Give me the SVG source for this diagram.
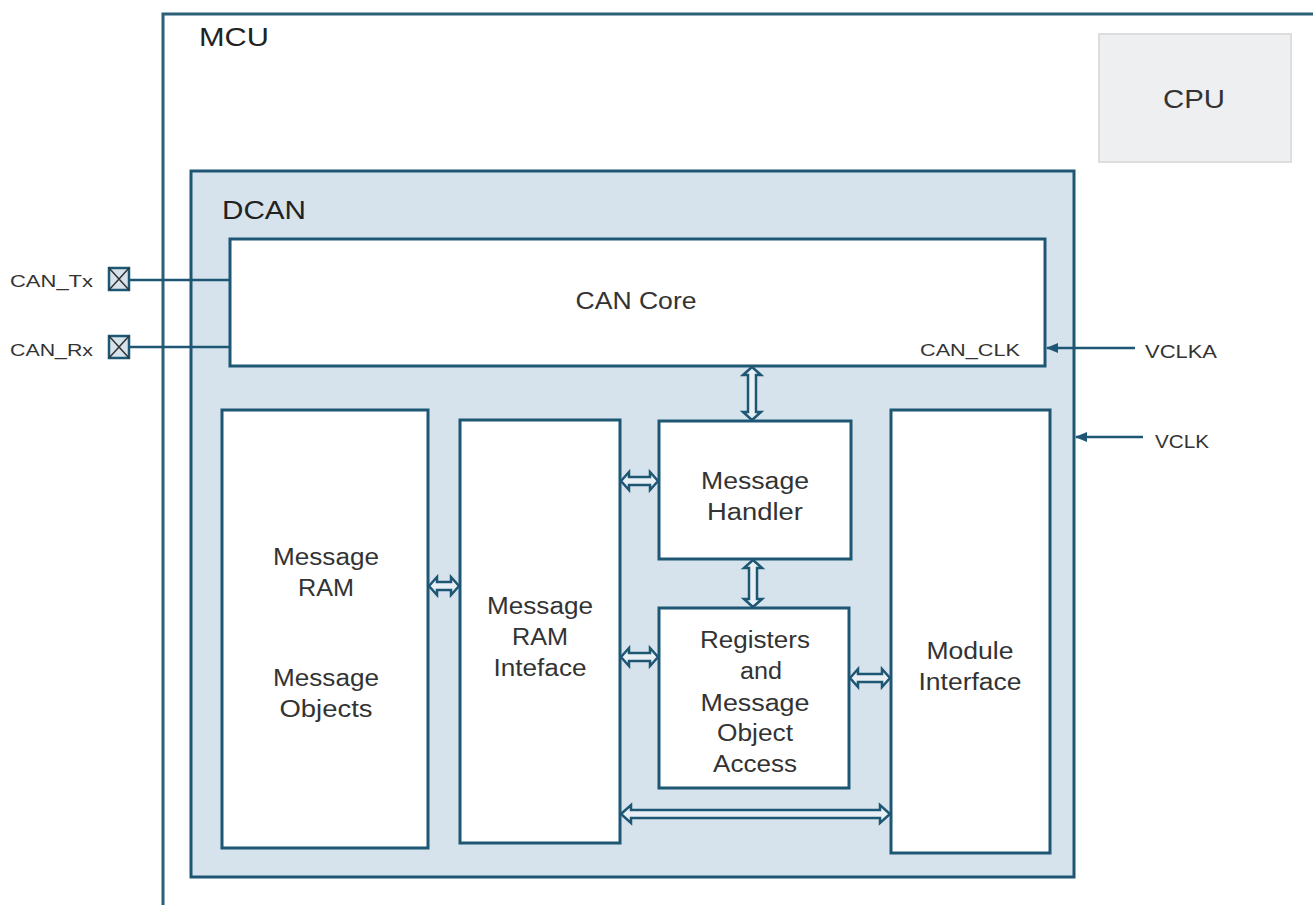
<svg xmlns="http://www.w3.org/2000/svg" width="1313" height="905" viewBox="0 0 1313 905">
<defs>
<style>
.box{fill:#ffffff;stroke:#1e5774;stroke-width:3}
.dcan{fill:#d6e3ec;stroke:#1e5774;stroke-width:3}
.mcu{fill:#ffffff;stroke:#2a6176;stroke-width:3}
.t{font-family:"Liberation Sans",Arial,sans-serif;font-size:23px;fill:#333333;text-anchor:middle}
.lbl{font-family:"Liberation Sans",Arial,sans-serif;font-size:26px;fill:#222222}
.sm{font-family:"Liberation Sans",Arial,sans-serif;font-size:16px;fill:#333333}
.da{fill:#e8f0f6;stroke:#1e5774;stroke-width:2.5;stroke-linejoin:miter}
.ln{stroke:#1e5774;stroke-width:2.5;fill:none}
</style>
<marker id="ah" markerWidth="12" markerHeight="12" refX="11" refY="6" orient="auto" markerUnits="userSpaceOnUse">
<path d="M0,1 L12,6 L0,11 Z" fill="#1e5774"/>
</marker>
</defs>
<rect width="1313" height="905" fill="#ffffff"/>
<g id="mcu">
<rect class="mcu" x="163" y="14" width="1170" height="920"/>
<text class="lbl" x="199" y="46" textLength="70" lengthAdjust="spacingAndGlyphs">MCU</text>
</g>
<g id="cpu">
<rect x="1099" y="34" width="192" height="128" fill="#eeeff1" stroke="#dddddd" stroke-width="2"/>
<text class="lbl" x="1163" y="108" textLength="62" lengthAdjust="spacingAndGlyphs" style="fill:#333333">CPU</text>
</g>
<g id="dcan">
<rect class="dcan" x="191" y="171" width="883" height="706"/>
<text class="lbl" x="222" y="219" textLength="84" lengthAdjust="spacingAndGlyphs">DCAN</text>
</g>
<g id="can-core">
<rect class="box" x="230" y="239" width="815" height="127"/>
<text class="t" x="636" y="309" textLength="121" lengthAdjust="spacingAndGlyphs">CAN Core</text>
<text class="sm" x="920" y="356" textLength="100" lengthAdjust="spacingAndGlyphs" style="font-size:17px">CAN_CLK</text>
</g>
<g id="message-ram">
<rect class="box" x="222" y="410" width="206" height="438"/>
<text class="t" x="326" y="565" textLength="106" lengthAdjust="spacingAndGlyphs">Message</text>
<text class="t" x="326" y="596" textLength="56" lengthAdjust="spacingAndGlyphs">RAM</text>
<text class="t" x="326" y="686" textLength="106" lengthAdjust="spacingAndGlyphs">Message</text>
<text class="t" x="326" y="717" textLength="93" lengthAdjust="spacingAndGlyphs">Objects</text>
</g>
<g id="ram-interface">
<rect class="box" x="460" y="420" width="160" height="423"/>
<text class="t" x="540" y="614" textLength="106" lengthAdjust="spacingAndGlyphs">Message</text>
<text class="t" x="540" y="645" textLength="56" lengthAdjust="spacingAndGlyphs">RAM</text>
<text class="t" x="540" y="676" textLength="93" lengthAdjust="spacingAndGlyphs">Inteface</text>
</g>
<g id="message-handler">
<rect class="box" x="659" y="421" width="192" height="138"/>
<text class="t" x="755" y="489" textLength="108" lengthAdjust="spacingAndGlyphs">Message</text>
<text class="t" x="755" y="520" textLength="96" lengthAdjust="spacingAndGlyphs">Handler</text>
</g>
<g id="registers">
<rect class="box" x="659" y="608" width="190" height="180"/>
<text class="t" x="755" y="648" textLength="110" lengthAdjust="spacingAndGlyphs">Registers</text>
<text class="t" x="761" y="679" textLength="42" lengthAdjust="spacingAndGlyphs">and</text>
<text class="t" x="755" y="711" textLength="109" lengthAdjust="spacingAndGlyphs">Message</text>
<text class="t" x="755" y="741" textLength="76" lengthAdjust="spacingAndGlyphs">Object</text>
<text class="t" x="755" y="772" textLength="84" lengthAdjust="spacingAndGlyphs">Access</text>
</g>
<g id="module-interface">
<rect class="box" x="891" y="410" width="159" height="443"/>
<text class="t" x="970" y="659" textLength="87" lengthAdjust="spacingAndGlyphs">Module</text>
<text class="t" x="970" y="690" textLength="103" lengthAdjust="spacingAndGlyphs">Interface</text>
</g>
<g id="can-tx">
<text class="sm" x="10" y="287" textLength="83" lengthAdjust="spacingAndGlyphs">CAN_Tx</text>
<rect x="109" y="268" width="20" height="22" fill="#d6e3ec" stroke="#1e5774" stroke-width="2.5"/>
<path d="M109,268 L129,290 M129,268 L109,290" stroke="#333333" stroke-width="1.5"/>
</g>
<g id="can-rx">
<text class="sm" x="10" y="356" textLength="83" lengthAdjust="spacingAndGlyphs">CAN_Rx</text>
<rect x="109" y="336" width="20" height="22" fill="#d6e3ec" stroke="#1e5774" stroke-width="2.5"/>
<path d="M109,336 L129,358 M129,336 L109,358" stroke="#333333" stroke-width="1.5"/>
</g>
<g id="vclka-label"><text class="sm" x="1145" y="358" textLength="72" lengthAdjust="spacingAndGlyphs" style="font-size:18px">VCLKA</text></g>
<g id="vclk-label"><text class="sm" x="1155" y="448" textLength="54" lengthAdjust="spacingAndGlyphs" style="font-size:18px">VCLK</text></g>
<g id="connectors">
<line class="ln" x1="129" y1="280" x2="230" y2="280"/>
<line class="ln" x1="129" y1="347" x2="230" y2="347"/>
<line class="ln" x1="1135" y1="348" x2="1047" y2="348" marker-end="url(#ah)"/>
<line class="ln" x1="1143" y1="437" x2="1076" y2="437" marker-end="url(#ah)"/>
<!-- horizontal double arrows -->
<path class="da" d="M429,586 L437,577 L437,582 L451,582 L451,577 L459,586 L451,595 L451,590 L437,590 L437,595 Z"/>
<path class="da" d="M621,481 L629,472 L629,477 L650,477 L650,472 L658,481 L650,490 L650,485 L629,485 L629,490 Z"/>
<path class="da" d="M621,657 L629,648 L629,653 L650,653 L650,648 L658,657 L650,666 L650,661 L629,661 L629,666 Z"/>
<path class="da" d="M850,678 L858,669 L858,674 L882,674 L882,669 L890,678 L882,687 L882,682 L858,682 L858,687 Z"/>
<path class="da" d="M621,814 L631,805 L631,810 L880,810 L880,805 L890,814 L880,823 L880,818 L631,818 L631,823 Z"/>
<!-- vertical double arrows -->
<path class="da" d="M752,367 L743,375 L748,375 L748,412 L743,412 L752,420 L761,412 L756,412 L756,375 L761,375 Z"/>
<path class="da" d="M753,560 L744,568 L749,568 L749,599 L744,599 L753,607 L762,599 L757,599 L757,568 L762,568 Z"/>
</g>
</svg>
